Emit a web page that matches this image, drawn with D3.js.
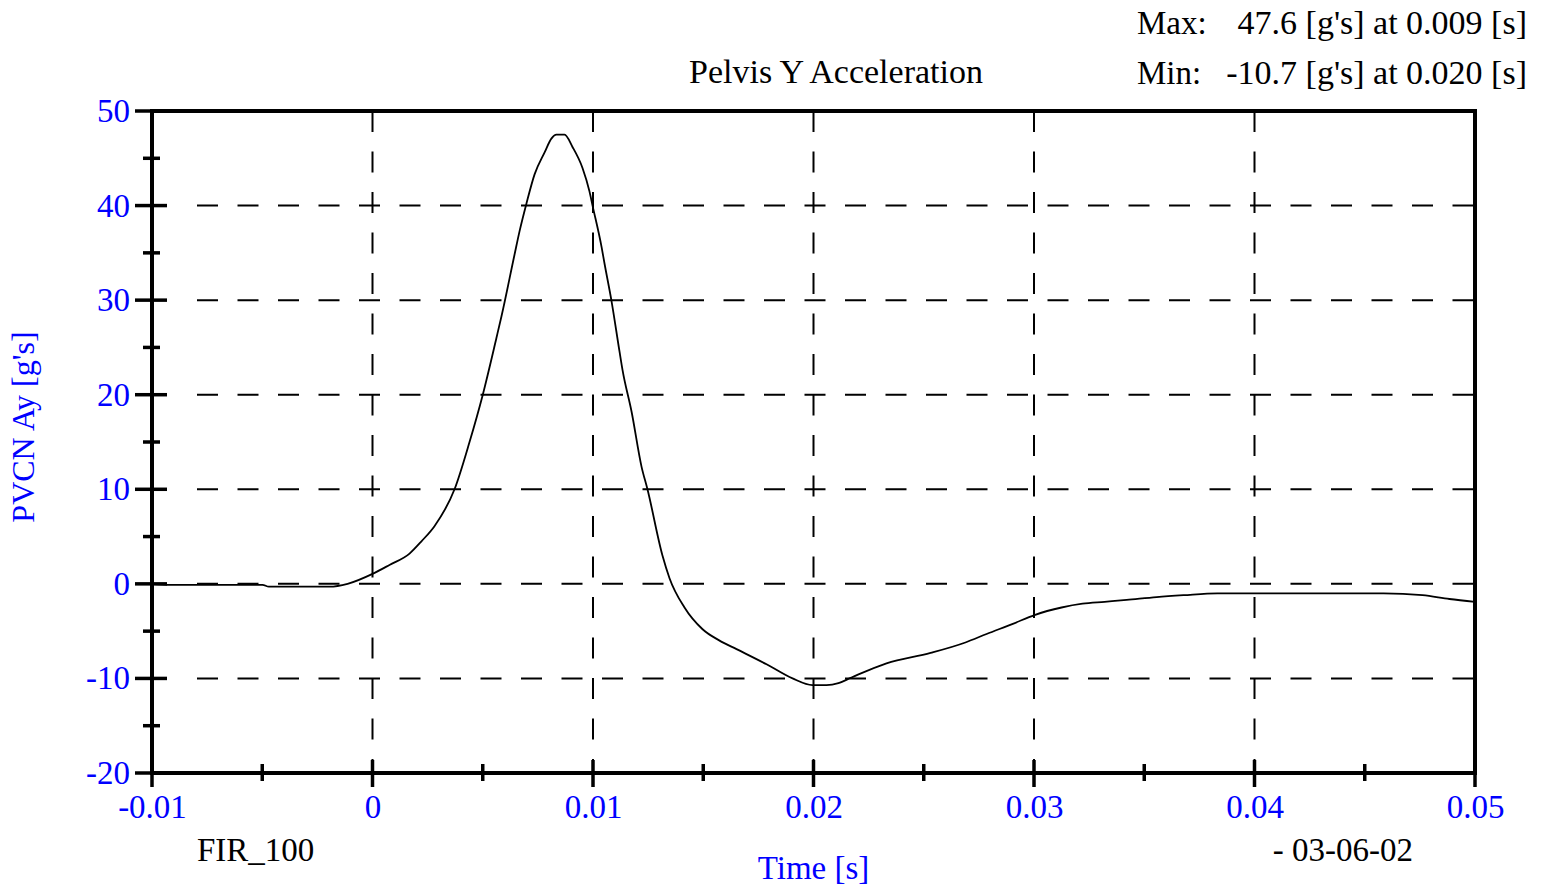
<!DOCTYPE html>
<html>
<head>
<meta charset="utf-8">
<script src="https://cdn.jsdelivr.net/npm/d3@7"></script>
<style>
  html, body { margin: 0; padding: 0; background: #fff; }
  svg { display: block; }
  text { font-family: "Liberation Serif", "Times New Roman", Times, serif; }
</style>
</head>
<body>
<svg id="chart" width="1545" height="886"></svg>
<script>
// ---- data ----
const timeS = [-0.01, -0.00921, -0.00739, -0.00499, -0.00470, -0.00376, -0.00195, -0.00113, 0.0,
  0.00077, 0.00168, 0.00222, 0.00281, 0.00372, 0.0044, 0.00499, 0.00562, 0.00585, 0.00644,
  0.00667, 0.00698, 0.00735, 0.0078, 0.00812, 0.00834, 0.00871, 0.00907, 0.00952, 0.00984,
  0.00998, 0.01039, 0.01052, 0.01084, 0.0112, 0.01134, 0.01175, 0.0122, 0.01247, 0.01315,
  0.01347, 0.01415, 0.01497, 0.01574, 0.01651, 0.01787, 0.01905, 0.01995, 0.02059, 0.02113,
  0.02172, 0.02331, 0.02531, 0.02689, 0.02785, 0.02907, 0.03002, 0.03125, 0.0322, 0.0332,
  0.0342, 0.03556, 0.03678, 0.03832, 0.04585, 0.04762, 0.04884, 0.05];
const accelG = [0.0, -0.1, -0.1, -0.1, -0.3, -0.3, -0.3, 0.0, 1.05,
  2.0, 3.2, 4.5, 6.1, 10.0, 15.0, 19.9, 26.0, 28.3, 34.8,
  37.3, 40.2, 43.3, 45.6, 47.1, 47.5, 47.5, 46.2, 44.0, 41.5,
  40.0, 35.6, 33.9, 29.9, 24.6, 22.6, 18.2, 12.4, 10.0, 3.0,
  0.6, -2.5, -4.8, -6.0, -6.9, -8.5, -10.0, -10.7, -10.7, -10.5,
  -9.9, -8.4, -7.3, -6.2, -5.3, -4.2, -3.3, -2.5, -2.1, -1.9,
  -1.7, -1.4, -1.2, -1.0, -1.0, -1.2, -1.6, -1.9];

const xTicks = [-0.01, 0, 0.01, 0.02, 0.03, 0.04, 0.05];
const xTickLabels = ["-0.01", "0", "0.01", "0.02", "0.03", "0.04", "0.05"];
const xMinorTicks = [-0.005, 0.005, 0.015, 0.025, 0.035, 0.045];
const yTicks = [-20, -10, 0, 10, 20, 30, 40, 50];
const yTickLabels = ["-20", "-10", "0", "10", "20", "30", "40", "50"];
const yMinorTicks = [-15, -5, 5, 15, 25, 35, 45];

const titleText = "Pelvis Y Acceleration";
const maxLabel = "Max:", maxValue = "47.6 [g's] at 0.009 [s]";
const minLabel = "Min:", minValue = "-10.7 [g's] at 0.020 [s]";
const xTitle = "Time [s]";
const yTitle = "PVCN Ay [g's]";
const leftNote = "FIR_100";
const rightNote = "- 03-06-02";

// ---- layout ----
const svg = d3.select("#chart");
const L = 152, R = 1475, T = 111, B = 773;
const blue = "#0000ff";
const fs = 32;
const fsText = 34;

const x = d3.scaleLinear().domain([-0.01, 0.05]).range([L, R]);
const y = d3.scaleLinear().domain([-20, 50]).range([B, T]);

// grid
const grid = svg.append("g").attr("stroke", "#000").attr("stroke-width", 2)
  .attr("stroke-dasharray", "21,19.5");
grid.selectAll("line.h").data(yTicks.slice(1, -1)).join("line")
  .attr("class", "h")
  .attr("x1", L + 45).attr("x2", R)
  .attr("y1", d => y(d)).attr("y2", d => y(d));
grid.selectAll("line.v").data(xTicks.slice(1, -1)).join("line")
  .attr("class", "v")
  .attr("y1", T).attr("y2", B)
  .attr("x1", d => x(d)).attr("x2", d => x(d));

// curve
const pts = timeS.map((t, i) => [t, accelG[i]]);
svg.append("path")
  .datum(pts)
  .attr("fill", "none")
  .attr("stroke", "#000")
  .attr("stroke-width", 1.8)
  .attr("d", d3.line().x(d => x(d[0])).y(d => y(d[1])).curve(d3.curveMonotoneX));

// frame
svg.append("rect").attr("x", L).attr("y", T).attr("width", R - L).attr("height", B - T)
  .attr("fill", "none").attr("stroke", "#000").attr("stroke-width", 4);

// y ticks
const ticksG = svg.append("g").attr("stroke", "#000").attr("stroke-width", 3.5);
ticksG.selectAll("line.ym").data(yTicks).join("line")
  .attr("x1", L - 17).attr("x2", L + 15)
  .attr("y1", d => y(d)).attr("y2", d => y(d));
ticksG.selectAll("line.yn").data(yMinorTicks).join("line")
  .attr("x1", L - 9).attr("x2", L + 8)
  .attr("y1", d => y(d)).attr("y2", d => y(d));
// x ticks
ticksG.selectAll("line.xm").data(xTicks).join("line")
  .attr("y1", B - 13).attr("y2", B + 14)
  .attr("x1", d => x(d)).attr("x2", d => x(d));
ticksG.selectAll("line.xn").data(xMinorTicks).join("line")
  .attr("y1", B - 9).attr("y2", B + 8)
  .attr("x1", d => x(d)).attr("x2", d => x(d));

// axis labels via d3 axes
const yAxis = svg.append("g").attr("transform", `translate(${L},0)`)
  .call(d3.axisLeft(y).tickValues(yTicks).tickFormat((d, i) => yTickLabels[i]).tickSize(0).tickPadding(22));
yAxis.select(".domain").remove();
yAxis.selectAll("text").attr("fill", blue).style("font-size", "33px")
  .style("font-family", "'Liberation Serif', 'Times New Roman', serif");

const xAxis = svg.append("g").attr("transform", `translate(0,${B})`)
  .call(d3.axisBottom(x).tickValues(xTicks).tickFormat((d, i) => xTickLabels[i]).tickSize(0).tickPadding(22));
xAxis.select(".domain").remove();
xAxis.selectAll("text").attr("fill", blue).style("font-size", "33px")
  .style("font-family", "'Liberation Serif', 'Times New Roman', serif");

// texts
svg.append("text").attr("x", 836).attr("y", 83).attr("text-anchor", "middle")
  .style("font-size", fsText + "px").text(titleText);
svg.append("text").attr("x", 1137).attr("y", 34).style("font-size", "33px").text(maxLabel);
svg.append("text").attr("x", 1527).attr("y", 34).attr("text-anchor", "end").style("font-size", fsText + "px").text(maxValue);
svg.append("text").attr("x", 1137).attr("y", 84).style("font-size", "33px").text(minLabel);
svg.append("text").attr("x", 1527).attr("y", 84).attr("text-anchor", "end").style("font-size", fsText + "px").text(minValue);

svg.append("text").attr("x", x(0.02)).attr("y", 879).attr("text-anchor", "middle")
  .attr("fill", blue).style("font-size", "33px").text(xTitle);
svg.append("text").attr("transform", "translate(34,427) rotate(-90)").attr("text-anchor", "middle")
  .attr("fill", blue).style("font-size", fs + "px").text(yTitle);
svg.append("text").attr("x", 197).attr("y", 861).style("font-size", "33px").text(leftNote);
svg.append("text").attr("x", 1413).attr("y", 861).attr("text-anchor", "end").style("font-size", "33px").text(rightNote);
</script>
</body>
</html>
